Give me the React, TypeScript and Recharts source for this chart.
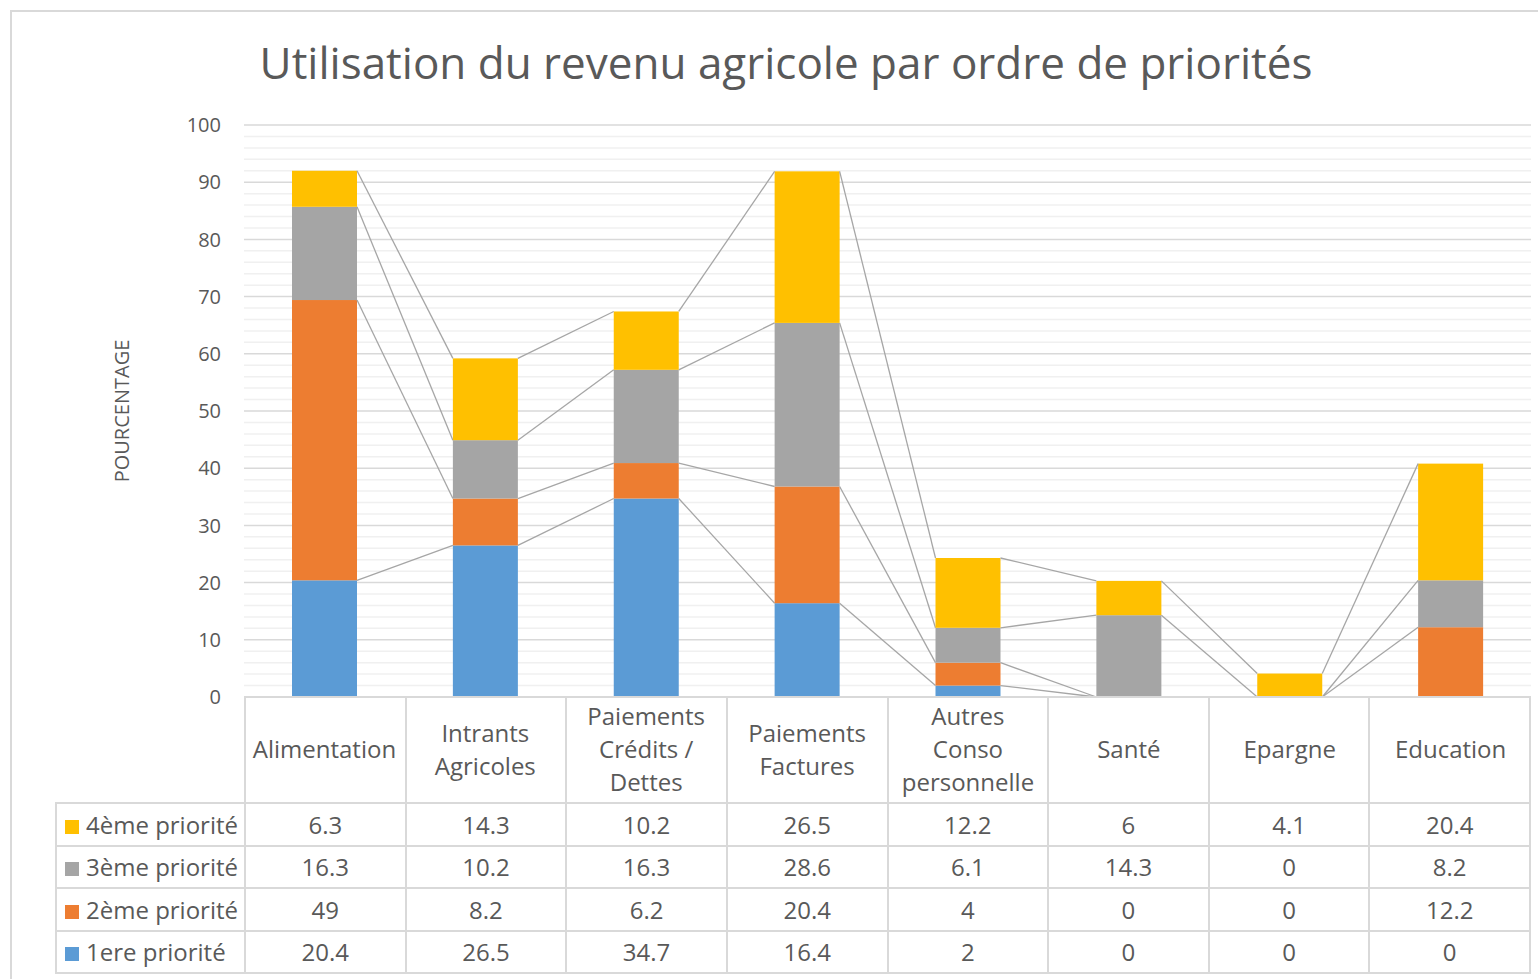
import React from 'react'
import { BarChart, Bar, XAxis, YAxis, CartesianGrid } from 'recharts'

// Utilisation du revenu agricole — barres empilées + tableau de données
const CATEGORIES = [
  'Alimentation',
  'Intrants Agricoles',
  'Paiements Crédits / Dettes',
  'Paiements Factures',
  'Autres Conso personnelle',
  'Santé',
  'Epargne',
  'Education',
]

// libellés tels qu'ils sont coupés dans l'en-tête du tableau
const CATEGORY_LINES = [
  ['Alimentation'],
  ['Intrants', 'Agricoles'],
  ['Paiements', 'Crédits /', 'Dettes'],
  ['Paiements', 'Factures'],
  ['Autres', 'Conso', 'personnelle'],
  ['Santé'],
  ['Epargne'],
  ['Education'],
]

const PRIO_1 = [20.4, 26.5, 34.7, 16.4, 2, 0, 0, 0]
const PRIO_2 = [49, 8.2, 6.2, 20.4, 4, 0, 0, 12.2]
const PRIO_3 = [16.3, 10.2, 16.3, 28.6, 6.1, 14.3, 0, 8.2]
const PRIO_4 = [6.3, 14.3, 10.2, 26.5, 12.2, 6, 4.1, 20.4]

const Y_TICKS = [0, 10, 20, 30, 40, 50, 60, 70, 80, 90, 100]
const MINOR_GRID = Array.from({ length: 51 }, (_, i) => i * 2).filter(v => v % 10 !== 0)

const SERIES = [
  { key: 'p1', name: '1ere priorité', color: '#5b9bd5', values: PRIO_1 },
  { key: 'p2', name: '2ème priorité', color: '#ed7d31', values: PRIO_2 },
  { key: 'p3', name: '3ème priorité', color: '#a5a5a5', values: PRIO_3 },
  { key: 'p4', name: '4ème priorité', color: '#ffc000', values: PRIO_4 },
]

const data = CATEGORIES.map((category, i) => {
  const row: Record<string, string | number> = { category }
  SERIES.forEach(s => { row[s.key] = s.values[i] })
  return row
})

const TEXT = '#595959'
const BORDER = '#d9d9d9'
const FONT = '"Open Sans", "Noto Sans", sans-serif'

// coins haut-droit des segments déjà dessinés, pour les lignes de série
const segmentTops: Record<string, { x: number; y: number }> = {}

function makeSegment(seriesKey: string) {
  return function Segment(props: any) {
    const { x, y, width, height, fill, index } = props
    segmentTops[`${seriesKey}-${index}`] = { x: x + width, y }
    const prev = index > 0 ? segmentTops[`${seriesKey}-${index - 1}`] : undefined
    return (
      <g>
        {height > 0 && <rect x={x} y={y} width={width} height={height} fill={fill} />}
        {prev && (
          <line x1={prev.x} y1={prev.y} x2={x} y2={y} stroke="#a6a6a6" strokeWidth={1.3} />
        )}
      </g>
    )
  }
}

function CategoryTick(props: any) {
  const { x, y, index } = props
  const lines = CATEGORY_LINES[index] ?? [String(props.payload?.value ?? '')]
  const lh = 33
  const center = y + 53
  const first = center - ((lines.length - 1) * lh) / 2
  return (
    <g>
      {lines.map((l, i) => (
        <text
          key={i}
          x={x}
          y={first + i * lh + 8}
          textAnchor="middle"
          fill={TEXT}
          fontSize={24}
          fontFamily={FONT}
        >
          {l}
        </text>
      ))}
    </g>
  )
}

function YTitle(props: any) {
  const vb = props.viewBox ?? { x: 0, y: 125, width: 244, height: 572 }
  const cx = vb.x + 121
  const cy = vb.y + vb.height / 2
  return (
    <text
      x={cx}
      y={cy}
      transform={`rotate(-90 ${cx} ${cy})`}
      textAnchor="middle"
      dominantBaseline="central"
      fill={TEXT}
      fontSize={20}
      fontFamily={FONT}
    >
      POURCENTAGE
    </text>
  )
}

const cell: React.CSSProperties = {
  border: `2px solid ${BORDER}`,
  textAlign: 'center',
  padding: 0,
}

export default function App() {
  const rows = [...SERIES].reverse()
  return (
    <div
      style={{
        position: 'absolute',
        left: 0,
        top: 0,
        width: 1538,
        height: 979,
        background: '#fff',
        fontFamily: FONT,
        overflow: 'hidden',
      }}
    >
      <div
        style={{
          position: 'absolute',
          left: 10,
          top: 10,
          width: 1600,
          height: 1000,
          borderLeft: `2px solid ${BORDER}`,
          borderTop: `2px solid ${BORDER}`,
        }}
      />
      <div
        style={{
          position: 'absolute',
          left: 0,
          top: 40,
          width: 1572,
          textAlign: 'center',
          fontSize: 44,
          lineHeight: '44px',
          color: TEXT,
          whiteSpace: 'nowrap',
        }}
      >
        Utilisation du revenu agricole par ordre de priorités
      </div>

      <div style={{ position: 'absolute', left: 0, top: 0 }}>
        <BarChart
          width={1538}
          height={803}
          data={data}
          margin={{ top: 125, right: 7, bottom: 0, left: 0 }}
          barSize={65}
        >
          <CartesianGrid vertical={false} horizontalValues={MINOR_GRID} stroke="#f0f0f0" strokeWidth={1.5} />
          <CartesianGrid vertical={false} stroke={BORDER} strokeWidth={1.5} />
          <XAxis
            dataKey="category"
            height={106}
            interval={0}
            tickLine={false}
            tickSize={0}
            tickMargin={0}
            axisLine={{ stroke: BORDER, strokeWidth: 2 }}
            tick={<CategoryTick />}
          />
          <YAxis
            width={244}
            domain={[0, 100]}
            ticks={Y_TICKS}
            interval={0}
            axisLine={false}
            tickLine={false}
            tickSize={0}
            tickMargin={23}
            tick={{ fill: TEXT, fontSize: 20, fontFamily: FONT }}
            label={<YTitle />}
          />
          {SERIES.map(s => (
            <Bar
              key={s.key}
              dataKey={s.key}
              name={s.name}
              stackId="a"
              fill={s.color}
              isAnimationActive={false}
              shape={makeSegment(s.key)}
            />
          ))}
        </BarChart>
      </div>

      <table
        style={{
          position: 'absolute',
          left: 55,
          top: 697,
          width: 1476,
          borderCollapse: 'collapse',
          tableLayout: 'fixed',
          color: TEXT,
          fontSize: 24,
        }}
      >
        <colgroup>
          <col style={{ width: 189 }} />
          {CATEGORIES.map(c => (
            <col key={c} />
          ))}
        </colgroup>
        <tbody>
          <tr style={{ height: 106 }}>
            <td style={{ border: 'none', padding: 0 }} />
            {CATEGORIES.map(c => (
              <td key={c} style={{ ...cell, borderTop: 'none' }} />
            ))}
          </tr>
          {rows.map(s => (
            <tr key={s.key} style={{ height: 42.5 }}>
              <td style={{ ...cell, textAlign: 'left', whiteSpace: 'nowrap' }}>
                <span
                  style={{
                    display: 'inline-block',
                    width: 14,
                    height: 14,
                    background: s.color,
                    marginLeft: 8,
                    marginRight: 7,
                  }}
                />
                {s.name}
              </td>
              {s.values.map((v, i) => (
                <td key={i} style={cell}>
                  {v}
                </td>
              ))}
            </tr>
          ))}
        </tbody>
      </table>
    </div>
  )
}
